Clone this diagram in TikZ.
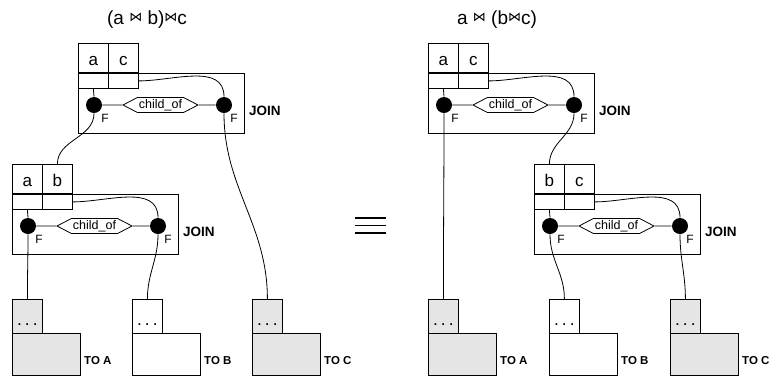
\documentclass[tikz,border=0pt]{standalone}
\usepackage{fontspec}
\setmainfont{Liberation Sans}
\newfontfamily\symfont{DejaVu Sans}
\usetikzlibrary{shapes.symbols,positioning}

% small raised join sign for the titles
\newcommand{\jn}{\raisebox{3.5pt}{\fontsize{13}{13}\selectfont\symfont ⋈}}

\begin{document}
\begin{tikzpicture}[x=1pt, y=-1pt, line width=0.8pt]
    \tikzset{keycell/.style={rectangle, draw, fill=white, minimum width=30pt, minimum height=30pt, inner sep=0pt, anchor=north west, text height=14pt, text depth=0pt, font=\fontsize{17}{17}\selectfont}}
    \tikzset{keyslot/.style={keycell, minimum height=15pt, text height=0pt}}
    \tikzset{joinbox/.style={rectangle, draw, fill=white, minimum width=166pt, minimum height=60pt, inner sep=0pt, anchor=north west}}
    \tikzset{joint/.style={circle, fill=black, minimum size=16pt, inner sep=0pt}}
    \tikzset{relbox/.style={signal, signal to=east and west, signal pointer angle=55, draw, fill=white, minimum width=75pt, minimum height=15pt, inner sep=0pt, font=\fontsize{12.5}{12.5}\selectfont}}
    \tikzset{flabel/.style={inner sep=0pt, font=\fontsize{12}{12}\selectfont}}
    \tikzset{oplabel/.style={inner sep=0pt, font=\fontsize{13.5}{13.5}\selectfont\bfseries}}
    \tikzset{ptrcell/.style={rectangle, draw, minimum width=30pt, minimum height=34pt, inner sep=0pt, anchor=north west, text height=20pt, text depth=2pt, font=\fontsize{12}{12}\selectfont\bfseries}}
    \tikzset{tabbox/.style={rectangle, draw, minimum width=68pt, minimum height=42pt, anchor=north west}}
    \tikzset{tablabel/.style={inner sep=0pt, font=\fontsize{11.5}{11.5}\selectfont\bfseries}}

    \useasboundingbox (0,0) rectangle (773,376);

    % Titles
    \node[font=\fontsize{19}{19}\selectfont] (ltitle) at (147,20) {(a \jn{} b)\jn{}c};
    \node[font=\fontsize{19}{19}\selectfont] (rtitle) at (497,20) {a \jn{} (b\jn{}c)};

    % Join operators with their key boxes
    \foreach \u/\x/\y/\p/\q in {ltop/78/43/a/c, lbot/12/164/a/b, rtop/428/43/a/c, rbot/534/164/b/c}{
        \begin{scope}[shift={(\x,\y)}]
            \node[joinbox] (\u-join) at (0,30) {};
            \node[keycell] (\u-p) at (0,0) {\p};
            \node[keycell] (\u-q) at (30,0) {\q};
            \node[keyslot] (\u-ps) at (0,30) {};
            \node[keyslot] (\u-qs) at (30,30) {};
            \draw[line width=1.4pt] (\u-ps.north west) -- (\u-qs.north east);
            \node[joint] (\u-l) at (16,62) {};
            \node[joint] (\u-r) at (146,62) {};
            \node[relbox] (\u-rel) at (82.5,62) {child\_of};
            \draw (\u-l) -- (\u-rel) -- (\u-r);
            \node[flabel, below right=3pt and 1pt of \u-l] (\u-fl) {F};
            \node[flabel, below right=3pt and 0pt of \u-r] (\u-fr) {F};
            \node[oplabel, right=4pt of \u-join.east, yshift=-7pt] (\u-op) {JOIN};
            \draw (\u-ps.south) to[out=-80, in=95] (\u-l.north);
            \draw (\u-qs.east) to[out=0, in=90] (\u-r.north);
        \end{scope}
    }

    % Base tables
    \foreach \n/\x/\c/\t in {leftA/12/gray!20/TO A, leftB/132/white/TO B, leftC/252/gray!20/TO C,
                             rightA/428/gray!20/TO A, rightB/549/white/TO B, rightC/670/gray!20/TO C}{
        \node[tabbox, fill=\c] (\n-tab) at (\x,333) {};
        \node[ptrcell, fill=\c] (\n-ptr) at (\x,299) {. . .};
        \node[tablabel, right=3pt of \n-tab.east, yshift=-6pt] (\n-lbl) {\t};
    }

    % Plan edges
    \draw (ltop-l.south) to[out=-90, in=90] (lbot-q.north);
    \draw (ltop-r.south) to[out=-90, in=90] (leftC-ptr.north);
    \draw (lbot-l.south) to[out=-90, in=90] (leftA-ptr.north);
    \draw (lbot-r.south) to[out=-90, in=90] (leftB-ptr.north);
    \draw (rtop-l.south) to[out=-90, in=90] (rightA-ptr.north);
    \draw (rtop-r.south) to[out=-90, in=90] (rbot-p.north);
    \draw (rbot-l.south) to[out=-90, in=90] (rightB-ptr.north);
    \draw (rbot-r.south) to[out=-90, in=90] (rightC-ptr.north);

    % Equivalence sign
    \foreach \yy in {218,225.5,233}
        \draw[line width=1.3pt] (355,\yy) -- (386,\yy);
\end{tikzpicture}
\end{document}
